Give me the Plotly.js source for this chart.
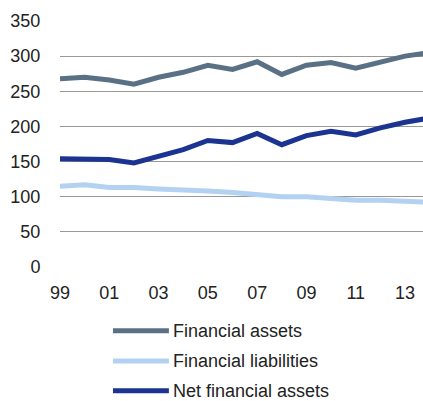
<!DOCTYPE html>
<html><head><meta charset="utf-8">
<script src="https://cdn.plot.ly/plotly-3.0.1.min.js"></script>
<style>html,body{margin:0;padding:0;background:#fff}</style>
</head><body><div id="chart" style="width:423px;height:401px"></div>
<script>
const years = [1999,2000,2001,2002,2003,2004,2005,2006,2007,2008,2009,2010,2011,2012,2013,2014];
const financialAssets = [268,270,266,260,270,277,287,281,292,274,287,291,283,292,300,305];
const financialLiabilities = [115,117,113,113,111,110,108,106,103,100,100,98,95,95,93,92];
const netFinancialAssets = [154,154,153,148,158,167,180,177,190,174,187,193,188,198,206,212];
const seriesNames = ["Financial assets","Financial liabilities","Net financial assets"];
const seriesColors = ["#5a7084","#b3d1f0","#1c3491"];
const tickVals = [1999,2001,2003,2005,2007,2009,2011,2013];
const tickText = ["99","01","03","05","07","09","11","13"];

const font = {family:"Liberation Sans, Arial, sans-serif", size:18, color:"#222"};
const seriesData = [financialAssets, financialLiabilities, netFinancialAssets];
const traces = seriesData.map((ys,i) => ({
  type:"scatter", mode:"lines", x:years, y:ys, name:seriesNames[i],
  line:{color:seriesColors[i], width:5}, hoverinfo:"skip", showlegend:false
}));

// legend drawn as shapes + annotations in paper coordinates
const legY = [-0.259, -0.382, -0.503];
const shapes = seriesNames.map((n,i) => ({
  type:"line", xref:"paper", yref:"paper", x0:0.146, x1:0.300, y0:legY[i], y1:legY[i],
  line:{color:seriesColors[i], width:5}
}));
const annotations = seriesNames.map((n,i) => ({
  xref:"paper", yref:"paper", x:0.308, y:legY[i], xanchor:"left", yanchor:"middle",
  text:n, showarrow:false, font:font, borderpad:0
}));

const layout = {
  width:423, height:401,
  margin:{l:60, r:0, t:21, b:134, autoexpand:false},
  paper_bgcolor:"#fff", plot_bgcolor:"#fff",
  font:font,
  showlegend:false,
  shapes:shapes, annotations:annotations,
  xaxis:{range:[1999,2013.73], tickvals:tickVals, ticktext:tickText, showgrid:false, zeroline:false,
         showline:false, ticks:"outside", ticklen:9, tickcolor:"rgba(0,0,0,0)", tickfont:font, fixedrange:true},
  yaxis:{range:[0,350], dtick:50, showgrid:true, gridcolor:"#999", gridwidth:1, zeroline:false,
         showline:false, ticks:"outside", ticklen:15, tickcolor:"rgba(0,0,0,0)", tickfont:font, fixedrange:true}
};
Plotly.newPlot("chart", traces, layout, {displayModeBar:false, staticPlot:true});
</script></body></html>
